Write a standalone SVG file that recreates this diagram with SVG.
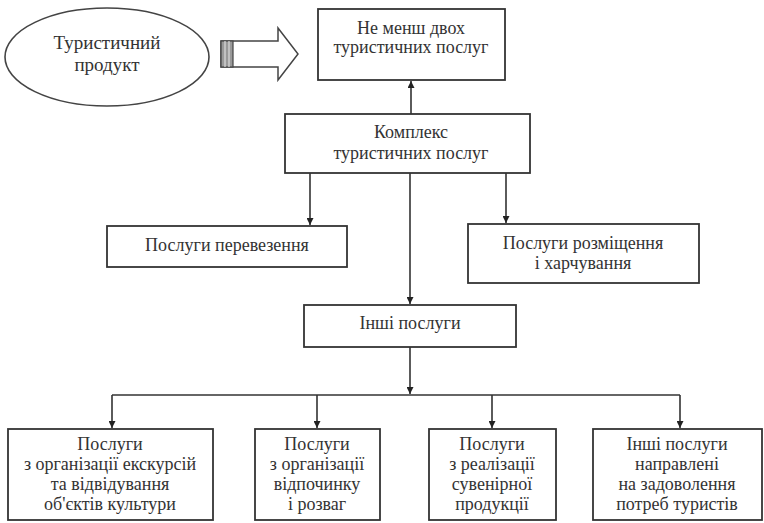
<svg xmlns="http://www.w3.org/2000/svg" width="764" height="523" viewBox="0 0 764 523">
<style>
.box{fill:#fff;stroke:#333;stroke-width:1.8}
.t{font-family:"Liberation Serif","DejaVu Serif",serif;font-size:18px;fill:#333;text-anchor:middle}
.c{stroke:#333;stroke-width:1.6;fill:none}
</style>
<defs>
<marker id="ah" viewBox="0 0 10 10" refX="10" refY="5" markerWidth="7" markerHeight="7" markerUnits="userSpaceOnUse" orient="auto">
<path d="M0,0 L10,5 L0,10 z" fill="#222"/>
</marker>
</defs>
<rect width="764" height="523" fill="#fff"/>
<g id="product">
<ellipse cx="107" cy="57" rx="102" ry="49" fill="#fff" stroke="#444" stroke-width="1.6"/>
<text class="t" x="107" y="49" style="font-size:19px">Туристичний</text>
<text class="t" x="107" y="71" style="font-size:19px">продукт</text>
</g>
<g id="block-arrow">
<path d="M221,41 L278,41 L278,28 L298,54 L278,80 L278,67 L221,67 Z" fill="#fff" stroke="#444" stroke-width="1.5"/>
<rect x="221" y="41" width="12" height="26" fill="#999" stroke="#444" stroke-width="1.2"/>
<path d="M225,41 V67 M229,41 V67" stroke="#ddd" stroke-width="1.2"/>
</g>
<g id="min-two">
<rect class="box" x="318" y="9" width="187" height="71"/>
<text class="t" x="411" y="34">Не менш двох</text>
<text class="t" x="411" y="53">туристичних послуг</text>
</g>
<g id="complex">
<rect class="box" x="285" y="114" width="245" height="59"/>
<text class="t" x="411" y="138">Комплекс</text>
<text class="t" x="411" y="159">туристичних послуг</text>
</g>
<g id="transport">
<rect class="box" x="107" y="226" width="240" height="41"/>
<text class="t" x="227" y="251">Послуги перевезення</text>
</g>
<g id="accommodation">
<rect class="box" x="468" y="224" width="231" height="59"/>
<text class="t" x="583" y="249">Послуги розміщення</text>
<text class="t" x="583" y="269">і харчування</text>
</g>
<g id="other">
<rect class="box" x="304" y="305" width="212" height="42"/>
<text class="t" x="410" y="329">Інші послуги</text>
</g>
<g id="excursions">
<rect class="box" x="8" y="429" width="205" height="91"/>
<text class="t" x="110" y="450">Послуги</text>
<text class="t" x="110" y="470">з організації екскурсій</text>
<text class="t" x="110" y="490">та відвідування</text>
<text class="t" x="110" y="510">об'єктів культури</text>
</g>
<g id="leisure">
<rect class="box" x="255" y="429" width="125" height="91"/>
<text class="t" x="317" y="450">Послуги</text>
<text class="t" x="317" y="470">з організації</text>
<text class="t" x="317" y="490">відпочинку</text>
<text class="t" x="317" y="510">і розваг</text>
</g>
<g id="souvenirs">
<rect class="box" x="429" y="429" width="127" height="91"/>
<text class="t" x="492" y="450">Послуги</text>
<text class="t" x="492" y="470">з реалізації</text>
<text class="t" x="492" y="490">сувенірної</text>
<text class="t" x="492" y="510">продукції</text>
</g>
<g id="other-needs">
<rect class="box" x="593" y="429" width="169" height="91"/>
<text class="t" x="677" y="450">Інші послуги</text>
<text class="t" x="677" y="470">направлені</text>
<text class="t" x="677" y="490">на задоволення</text>
<text class="t" x="677" y="510">потреб туристів</text>
</g>
<g id="connectors">
<path class="c" d="M411,114 V81" marker-end="url(#ah)"/>
<path class="c" d="M310,173 V225" marker-end="url(#ah)"/>
<path class="c" d="M506,173 V223" marker-end="url(#ah)"/>
<path class="c" d="M410,173 V304" marker-end="url(#ah)"/>
<path class="c" d="M410,347 V394" marker-end="url(#ah)"/>
<path class="c" d="M112,395 H680"/>
<path class="c" d="M112,395 V428" marker-end="url(#ah)"/>
<path class="c" d="M317,395 V428" marker-end="url(#ah)"/>
<path class="c" d="M492,395 V428" marker-end="url(#ah)"/>
<path class="c" d="M680,395 V428" marker-end="url(#ah)"/>
</g>
</svg>
